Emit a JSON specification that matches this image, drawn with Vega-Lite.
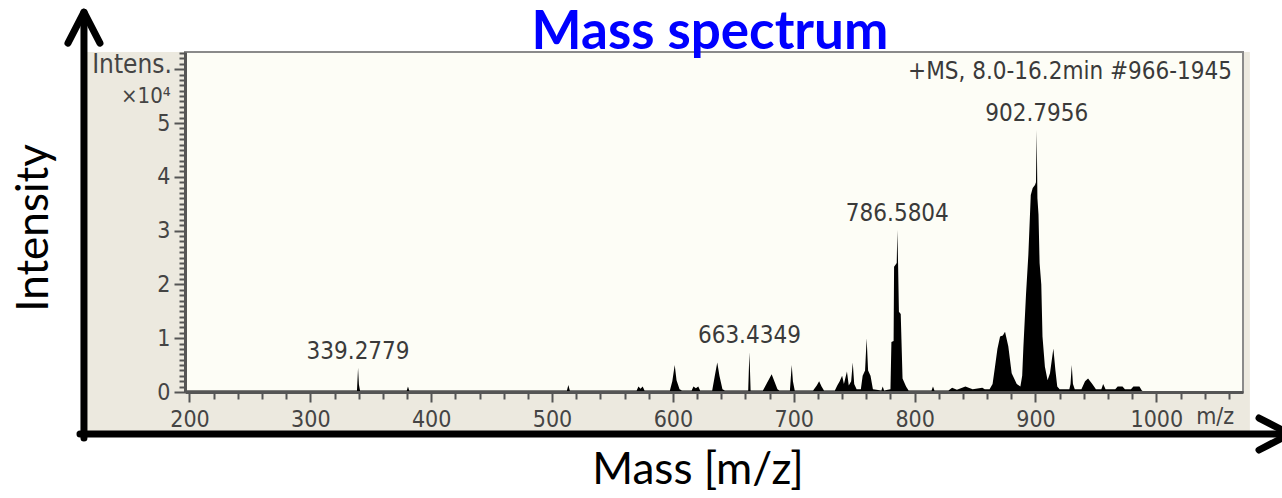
{
  "$schema": "https://vega.github.io/schema/vega-lite/v6.json",
  "width": 1058,
  "height": 340,
  "autosize": {"type": "none"},
  "padding": {"left": 185, "top": 52, "right": 39, "bottom": 106},
  "background": "white",
  "view": {"stroke": null, "fill": null},
  "config": {"axis": {"labelOverlap": false, "tickCount": 1000}},
  "datasets": {
    "spectrum": [
      {"mz": 196.5, "intensity": 0.03},
      {"mz": 338.6, "intensity": 0.03},
      {"mz": 339.5, "intensity": 0.45},
      {"mz": 340.2, "intensity": 0.14},
      {"mz": 341.1, "intensity": 0.03},
      {"mz": 379.8, "intensity": 0.03},
      {"mz": 380.8, "intensity": 0.1},
      {"mz": 381.8, "intensity": 0.03},
      {"mz": 512.3, "intensity": 0.03},
      {"mz": 513.5, "intensity": 0.13},
      {"mz": 514.7, "intensity": 0.03},
      {"mz": 570.0, "intensity": 0.03},
      {"mz": 571.5, "intensity": 0.1},
      {"mz": 573.2, "intensity": 0.06},
      {"mz": 575.0, "intensity": 0.1},
      {"mz": 576.5, "intensity": 0.03},
      {"mz": 597.5, "intensity": 0.03},
      {"mz": 599.5, "intensity": 0.2},
      {"mz": 601.5, "intensity": 0.5},
      {"mz": 603.0, "intensity": 0.22},
      {"mz": 605.5, "intensity": 0.05},
      {"mz": 607.5, "intensity": 0.03},
      {"mz": 615.5, "intensity": 0.03},
      {"mz": 617.0, "intensity": 0.1},
      {"mz": 619.0, "intensity": 0.07},
      {"mz": 621.0, "intensity": 0.1},
      {"mz": 622.5, "intensity": 0.03},
      {"mz": 632.5, "intensity": 0.03},
      {"mz": 634.5, "intensity": 0.28},
      {"mz": 636.7, "intensity": 0.55},
      {"mz": 638.5, "intensity": 0.3},
      {"mz": 641.0, "intensity": 0.05},
      {"mz": 643.0, "intensity": 0.03},
      {"mz": 662.3, "intensity": 0.03},
      {"mz": 663.3, "intensity": 0.74},
      {"mz": 664.3, "intensity": 0.03},
      {"mz": 674.5, "intensity": 0.03},
      {"mz": 681.7, "intensity": 0.33},
      {"mz": 686.5, "intensity": 0.05},
      {"mz": 688.0, "intensity": 0.03},
      {"mz": 696.8, "intensity": 0.03},
      {"mz": 698.3, "intensity": 0.5},
      {"mz": 699.3, "intensity": 0.2},
      {"mz": 700.8, "intensity": 0.03},
      {"mz": 716.0, "intensity": 0.03},
      {"mz": 719.0, "intensity": 0.12},
      {"mz": 721.0, "intensity": 0.2},
      {"mz": 723.0, "intensity": 0.1},
      {"mz": 725.0, "intensity": 0.03},
      {"mz": 734.0, "intensity": 0.03},
      {"mz": 736.0, "intensity": 0.12},
      {"mz": 738.0, "intensity": 0.2},
      {"mz": 740.0, "intensity": 0.3},
      {"mz": 741.5, "intensity": 0.15},
      {"mz": 744.0, "intensity": 0.38},
      {"mz": 745.5, "intensity": 0.12},
      {"mz": 747.5, "intensity": 0.2},
      {"mz": 748.8, "intensity": 0.55},
      {"mz": 750.0, "intensity": 0.15},
      {"mz": 752.0, "intensity": 0.05},
      {"mz": 755.5, "intensity": 0.05},
      {"mz": 757.0, "intensity": 0.3},
      {"mz": 759.0, "intensity": 0.4},
      {"mz": 760.3, "intensity": 1.0},
      {"mz": 761.5, "intensity": 0.4},
      {"mz": 763.5, "intensity": 0.3},
      {"mz": 765.5, "intensity": 0.05},
      {"mz": 772.5, "intensity": 0.03},
      {"mz": 773.6, "intensity": 0.1},
      {"mz": 774.7, "intensity": 0.03},
      {"mz": 780.0, "intensity": 0.05},
      {"mz": 780.8, "intensity": 0.93},
      {"mz": 782.6, "intensity": 0.95},
      {"mz": 783.0, "intensity": 2.33},
      {"mz": 785.2, "intensity": 2.4},
      {"mz": 785.7, "intensity": 3.01},
      {"mz": 786.3, "intensity": 2.4},
      {"mz": 787.0, "intensity": 1.49},
      {"mz": 788.5, "intensity": 1.45},
      {"mz": 790.0, "intensity": 0.25},
      {"mz": 792.9, "intensity": 0.1},
      {"mz": 795.0, "intensity": 0.03},
      {"mz": 814.0, "intensity": 0.03},
      {"mz": 815.2, "intensity": 0.1},
      {"mz": 816.4, "intensity": 0.03},
      {"mz": 828.0, "intensity": 0.03},
      {"mz": 831.0, "intensity": 0.08},
      {"mz": 835.0, "intensity": 0.04},
      {"mz": 842.0, "intensity": 0.1},
      {"mz": 848.0, "intensity": 0.05},
      {"mz": 856.0, "intensity": 0.08},
      {"mz": 858.0, "intensity": 0.05},
      {"mz": 862.0, "intensity": 0.05},
      {"mz": 864.5, "intensity": 0.15},
      {"mz": 866.5, "intensity": 0.47},
      {"mz": 868.5, "intensity": 0.8},
      {"mz": 870.7, "intensity": 1.03},
      {"mz": 873.0, "intensity": 1.05},
      {"mz": 874.8, "intensity": 1.12},
      {"mz": 877.5, "intensity": 0.85},
      {"mz": 880.3, "intensity": 0.35},
      {"mz": 884.5, "intensity": 0.15},
      {"mz": 887.5, "intensity": 0.1},
      {"mz": 889.0, "intensity": 0.3},
      {"mz": 890.0, "intensity": 0.84},
      {"mz": 892.2, "intensity": 1.83},
      {"mz": 894.1, "intensity": 2.55},
      {"mz": 896.1, "intensity": 3.66},
      {"mz": 897.7, "intensity": 3.79},
      {"mz": 899.6, "intensity": 3.85},
      {"mz": 900.4, "intensity": 3.9},
      {"mz": 901.0, "intensity": 4.87},
      {"mz": 901.6, "intensity": 3.6},
      {"mz": 902.5, "intensity": 3.3},
      {"mz": 903.4, "intensity": 2.4},
      {"mz": 904.8, "intensity": 2.0},
      {"mz": 905.8, "intensity": 1.03},
      {"mz": 907.8, "intensity": 0.47},
      {"mz": 910.0, "intensity": 0.22},
      {"mz": 912.0, "intensity": 0.35},
      {"mz": 914.8, "intensity": 0.81},
      {"mz": 916.5, "intensity": 0.4},
      {"mz": 918.0, "intensity": 0.1},
      {"mz": 920.0, "intensity": 0.05},
      {"mz": 928.0, "intensity": 0.05},
      {"mz": 929.0, "intensity": 0.15},
      {"mz": 930.0, "intensity": 0.5},
      {"mz": 931.0, "intensity": 0.15},
      {"mz": 932.5, "intensity": 0.05},
      {"mz": 938.0, "intensity": 0.05},
      {"mz": 941.0, "intensity": 0.2},
      {"mz": 943.5, "intensity": 0.25},
      {"mz": 947.0, "intensity": 0.15},
      {"mz": 950.0, "intensity": 0.05},
      {"mz": 954.5, "intensity": 0.05},
      {"mz": 956.0, "intensity": 0.15},
      {"mz": 958.0, "intensity": 0.05},
      {"mz": 966.0, "intensity": 0.05},
      {"mz": 968.0, "intensity": 0.1},
      {"mz": 972.0, "intensity": 0.1},
      {"mz": 974.0, "intensity": 0.05},
      {"mz": 979.0, "intensity": 0.05},
      {"mz": 981.0, "intensity": 0.1},
      {"mz": 986.0, "intensity": 0.1},
      {"mz": 988.0, "intensity": 0.03},
      {"mz": 990.0, "intensity": 0.0}
    ],
    "peaks": [
      {"mz": 339.5, "intensity": 0.45, "label": "339.2779"},
      {"mz": 663.3, "intensity": 0.74, "label": "663.4349"},
      {"mz": 785.7, "intensity": 3.01, "label": "786.5804"},
      {"mz": 901.0, "intensity": 4.87, "label": "902.7956"}
    ],
    "one": [{}]
  },
  "layer": [
    {
      "data": {"name": "one"},
      "mark": {"type": "rect", "color": "#ECE9DF"},
      "encoding": {
        "x": {"datum": 114.4, "type": "quantitative", "scale": {"domain": [196.3, 1071.7], "nice": false, "zero": false}},
        "x2": {"datum": 1077.4},
        "y": {"datum": -0.725, "type": "quantitative", "scale": {"domain": [0, 6.32], "nice": false, "zero": false}},
        "y2": {"datum": 6.32}
      }
    },
    {
      "data": {"name": "one"},
      "mark": {"type": "rect", "color": "#FDFDF6", "stroke": "#8a8a8a", "strokeWidth": 2},
      "encoding": {
        "x": {"datum": 196.3, "type": "quantitative"},
        "x2": {"datum": 1071.7},
        "y": {"datum": 0, "type": "quantitative"},
        "y2": {"datum": 6.32}
      }
    },
    {
      "data": {"name": "spectrum"},
      "mark": {"type": "area", "color": "black", "interpolate": "linear"},
      "encoding": {
        "x": {
          "field": "mz", "type": "quantitative",
          "scale": {"domain": [196.3, 1071.7], "nice": false, "zero": false},
          "axis": {
            "title": null, "grid": false, "zindex": 1, "tickCount": 1000,
            "values": [200,220,240,260,280,300,320,340,360,380,400,420,440,460,480,500,520,540,560,580,600,620,640,660,680,700,720,740,760,780,800,820,840,860,880,900,920,940,960,980,1000,1020,1040,1060],
            "labelExpr": "datum.value % 100 === 0 ? ('' + datum.value) : (datum.value === 1040 ? 'm/z' : '')",
            "labelOffset": {"condition": {"test": "datum.value === 1040", "value": 10}, "value": 0},
            "tickSize": {"condition": {"test": "datum.value % 100 === 0", "value": 10}, "value": 7},
            "labelPadding": 6,
            "labelFont": "DejaVu Sans Condensed, DejaVu Sans",
            "labelFontSize": 23,
            "labelColor": "#444",
            "labelOverlap": false, "labelFlush": false, "labelBound": false,
            "domainColor": "#555", "domainWidth": 3,
            "tickColor": "#555", "tickWidth": 2
          }
        },
        "y": {
          "field": "intensity", "type": "quantitative", "stack": null,
          "scale": {"domain": [0, 6.32], "nice": false, "zero": false},
          "axis": {
            "title": null, "grid": false, "zindex": 1, "tickCount": 1000,
            "values": [0,0.1,0.2,0.3,0.4,0.5,0.6,0.7,0.8,0.9,1,1.1,1.2,1.3,1.4,1.5,1.6,1.7,1.8,1.9,2,2.1,2.2,2.3,2.4,2.5,2.6,2.7,2.8,2.9,3,3.1,3.2,3.3,3.4,3.5,3.6,3.7,3.8,3.9,4,4.1,4.2,4.3,4.4,4.5,4.6,4.7,4.8,4.9,5,5.1,5.2,5.3,5.4,5.5,5.6,5.7,5.8,5.9,6,6.1,6.2,6.3],
            "labelExpr": "(datum.value % 1 === 0 && datum.value <= 5) ? ('' + datum.value) : ''",
            "tickSize": {"condition": {"test": "datum.value % 1 === 0", "value": 11}, "value": 6},
            "labelPadding": 4,
            "labelFont": "DejaVu Sans Condensed, DejaVu Sans",
            "labelFontSize": 23,
            "labelColor": "#444",
            "labelOverlap": false, "labelFlush": false, "labelBound": false,
            "domainColor": "#555", "domainWidth": 3,
            "tickColor": "#555", "tickWidth": 2
          }
        }
      }
    },
    {
      "data": {"name": "peaks"},
      "mark": {"type": "text", "dy": -16, "baseline": "middle", "align": "center", "font": "DejaVu Sans Condensed, DejaVu Sans", "fontSize": 24, "color": "#3a3a3a"},
      "encoding": {
        "x": {"field": "mz", "type": "quantitative"},
        "y": {"field": "intensity", "type": "quantitative"},
        "text": {"field": "label"}
      }
    },
    {
      "data": {"name": "one"},
      "mark": {"type": "text", "text": "Intens.", "align": "right", "baseline": "middle", "font": "DejaVu Sans Condensed, DejaVu Sans", "fontSize": 26, "color": "#444"},
      "encoding": {"x": {"datum": 185.5, "type": "quantitative"}, "y": {"datum": 6.08, "type": "quantitative"}}
    },
    {
      "data": {"name": "one"},
      "mark": {"type": "text", "text": "×10⁴", "align": "right", "baseline": "middle", "font": "DejaVu Sans Condensed, DejaVu Sans", "fontSize": 22, "color": "#444"},
      "encoding": {"x": {"datum": 184.5, "type": "quantitative"}, "y": {"datum": 5.5, "type": "quantitative"}}
    },
    {
      "data": {"name": "one"},
      "mark": {"type": "text", "text": "+MS, 8.0-16.2min #966-1945", "align": "right", "baseline": "middle", "font": "DejaVu Sans Condensed, DejaVu Sans", "fontSize": 24, "color": "#3a3a3a"},
      "encoding": {"x": {"datum": 1062.6, "type": "quantitative"}, "y": {"datum": 5.95, "type": "quantitative"}}
    },
    {
      "data": {"name": "one"},
      "mark": {"type": "text", "text": "Mass spectrum", "align": "center", "baseline": "alphabetic", "font": "Lato", "fontWeight": "bold", "fontSize": 53, "color": "#0000FF"},
      "encoding": {"x": {"datum": 630.7, "type": "quantitative"}, "y": {"datum": 6.38, "type": "quantitative"}}
    },
    {
      "data": {"name": "one"},
      "mark": {"type": "text", "text": "Intensity", "align": "center", "baseline": "middle", "angle": 270, "font": "Lato", "fontSize": 44, "color": "black"},
      "encoding": {"x": {"datum": 72.2, "type": "quantitative"}, "y": {"datum": 3.05, "type": "quantitative"}}
    },
    {
      "data": {"name": "one"},
      "mark": {"type": "text", "text": "Mass [m/z]", "align": "center", "baseline": "middle", "font": "Lato", "fontSize": 44, "color": "black"},
      "encoding": {"x": {"datum": 620.8, "type": "quantitative"}, "y": {"datum": -1.468, "type": "quantitative"}}
    },
    {
      "data": {"name": "one"},
      "mark": {"type": "rule", "color": "black", "strokeWidth": 7, "strokeCap": "round"},
      "encoding": {"x": {"datum": 112.7, "type": "quantitative"}, "y": {"datum": -0.855, "type": "quantitative"}, "y2": {"datum": 7.06}}
    },
    {
      "data": {"name": "one"},
      "mark": {"type": "rule", "color": "black", "strokeWidth": 7, "strokeCap": "round"},
      "encoding": {"x": {"datum": 109.4, "type": "quantitative"}, "x2": {"datum": 1110.6}, "y": {"datum": -0.781, "type": "quantitative"}}
    },
    {
      "data": {"name": "one"},
      "mark": {"type": "point", "shape": "M-0.516,1L0,0L0.516,1", "size": 3844, "filled": false, "stroke": "black", "strokeWidth": 7, "strokeCap": "round", "strokeJoin": "round", "opacity": 1},
      "encoding": {"x": {"datum": 112.7, "type": "quantitative"}, "y": {"datum": 7.06, "type": "quantitative"}}
    },
    {
      "data": {"name": "one"},
      "mark": {"type": "point", "shape": "M-1,-0.516L0,0L-1,0.516", "size": 3844, "filled": false, "stroke": "black", "strokeWidth": 7, "strokeCap": "round", "strokeJoin": "round", "opacity": 1},
      "encoding": {"x": {"datum": 1110.6, "type": "quantitative"}, "y": {"datum": -0.781, "type": "quantitative"}}
    }
  ]
}
